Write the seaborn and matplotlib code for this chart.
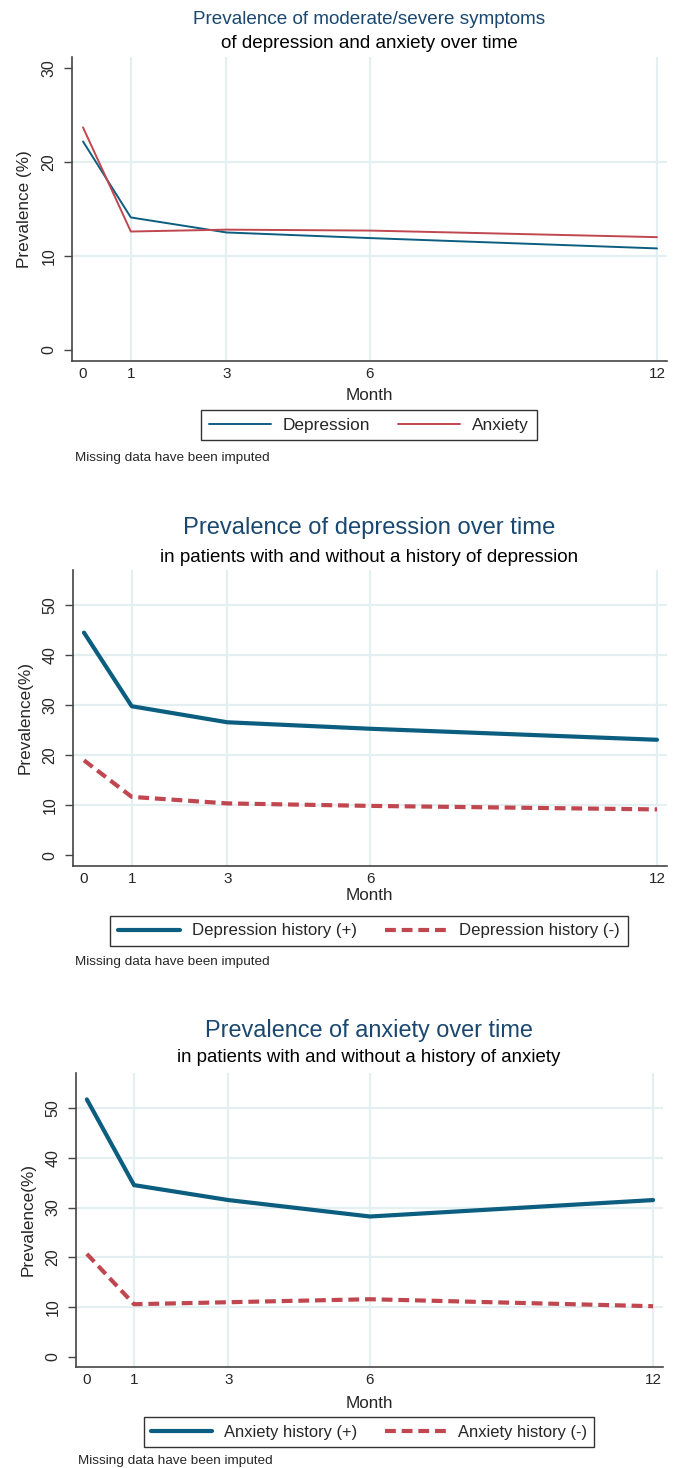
import numpy as np
import pandas as pd
import seaborn as sns
import matplotlib.pyplot as plt
from matplotlib.lines import Line2D

# values
months = [0, 1, 3, 6, 12]
depression = [22.2, 14.1, 12.5, 11.9, 10.8]
anxiety = [23.7, 12.6, 12.8, 12.7, 12.0]
dep_history_pos = [44.5, 29.8, 26.6, 25.3, 23.1]
dep_history_neg = [19.0, 11.7, 10.4, 9.9, 9.2]
anx_history_pos = [51.7, 34.5, 31.5, 28.2, 31.5]
anx_history_neg = [20.7, 10.6, 11.0, 11.6, 10.2]

BLUE = "#0b5e7f"
RED = "#c0474f"
TITLE_BLUE = "#1a476f"
GRID = "#e4eff1"
FONT = ["Liberation Sans", "DejaVu Sans"]

sns.set_theme(style="white")
plt.rcParams['font.family'] = FONT

W, H = 679, 1468
fig = plt.figure(figsize=(W / 100, H / 100), dpi=100)


def px_axes(left, top, right, bottom):
    return fig.add_axes([left / W, 1 - bottom / H, (right - left) / W, (bottom - top) / H])


def fx(x):
    return x / W


def fy(y):
    return 1 - y / H


def style_axes(ax, yticks, ylim, ylabel):
    ax.set_xlim(-0.23, 12.21)
    ax.set_ylim(*ylim)
    ax.set_xticks(months)
    ax.set_yticks(yticks)
    ax.set_xlabel("")
    ax.set_ylabel(ylabel, fontsize=12.3, labelpad=7)
    ax.tick_params(axis="x", length=0, pad=4, labelsize=11)
    ax.tick_params(axis="y", length=6, width=1, color="#444444", pad=5, labelsize=11.5, left=True)
    for lab in ax.get_yticklabels():
        lab.set_rotation(90)
        lab.set_va("center")
    for s in ["top", "right"]:
        ax.spines[s].set_visible(False)
    for s in ["left", "bottom"]:
        ax.spines[s].set_color("#444444")
        ax.spines[s].set_linewidth(1.2)
    ax.grid(True, color=GRID, linewidth=1.6)
    ax.set_axisbelow(True)
    # no grid lines at the axis edges (0 on both axes)
    ax.get_xgridlines()[0].set_visible(False)
    ax.get_ygridlines()[0].set_visible(False)
    if yticks[-1] >= ylim[1] - 2:
        ax.get_ygridlines()[-1].set_visible(False)


def titles(cx, y_title, y_sub, title, sub, tsize, ssize):
    fig.text(fx(cx), fy(y_title), title, ha="center", va="center", color=TITLE_BLUE,
             fontsize=tsize)
    fig.text(fx(cx), fy(y_sub), sub, ha="center", va="center", color="black",
             fontsize=ssize)


def footer(cx, y_month, y_leg, y_note, x_note, handles, labels, hlen, colsp, lsize):
    fig.text(fx(cx), fy(y_month), "Month", ha="center", va="center", fontsize=12.3)
    leg = fig.legend(handles, labels, loc="center", bbox_to_anchor=(fx(cx), fy(y_leg)),
                     ncol=2, frameon=True, fancybox=False, edgecolor="black",
                     handlelength=hlen, columnspacing=colsp, handletextpad=0.7,
                     borderpad=0.45, prop={"size": lsize})
    leg.get_frame().set_linewidth(1.0)
    fig.text(fx(x_note), fy(y_note), "Missing data have been imputed", ha="left", va="center",
             fontsize=9.7)


# ---- panel 1
ax1 = px_axes(72, 57, 667, 361)
sns.lineplot(x=months, y=depression, ax=ax1, color=BLUE, linewidth=1.4)
sns.lineplot(x=months, y=anxiety, ax=ax1, color=RED, linewidth=1.4)
style_axes(ax1, [0, 10, 20, 30], (-1.2, 31.2), "Prevalence (%)")
titles(369, 19, 44, "Prevalence of moderate/severe symptoms",
       "of depression and anxiety over time", 13.6, 13.6)
footer(369, 395, 425, 458, 75,
       [Line2D([], [], color=BLUE, lw=1.4), Line2D([], [], color=RED, lw=1.4)],
       ["Depression", "Anxiety"], 3.6, 1.6, 12.4)

# ---- panel 2
ax2 = px_axes(73, 570, 667, 866)
sns.lineplot(x=months, y=dep_history_pos, ax=ax2, color=BLUE, linewidth=3.0)
sns.lineplot(x=months, y=dep_history_neg, ax=ax2, color=RED, linewidth=3.0)
ax2.lines[-1].set_dashes([2.6, 1.4])
style_axes(ax2, [0, 10, 20, 30, 40, 50], (-2.1, 57), "Prevalence(%)")
titles(369, 528, 557, "Prevalence of depression over time",
       "in patients with and without a history of depression", 17.1, 13.5)
footer(369, 896, 931, 962, 75,
       [Line2D([], [], color=BLUE, lw=3.0),
        Line2D([], [], color=RED, lw=3.0, dashes=[2.6, 1.4])],
       ["Depression history (+)", "Depression history (-)"], 3.7, 1.7, 12.1)

# ---- panel 3
ax3 = px_axes(76, 1073, 663, 1367)
sns.lineplot(x=months, y=anx_history_pos, ax=ax3, color=BLUE, linewidth=3.0)
sns.lineplot(x=months, y=anx_history_neg, ax=ax3, color=RED, linewidth=3.0)
ax3.lines[-1].set_dashes([2.6, 1.4])
style_axes(ax3, [0, 10, 20, 30, 40, 50], (-2.0, 57), "Prevalence(%)")
titles(369, 1031, 1058, "Prevalence of anxiety over time",
       "in patients with and without a history of anxiety", 16.9, 13.45)
footer(369, 1404, 1432, 1461, 78,
       [Line2D([], [], color=BLUE, lw=3.0),
        Line2D([], [], color=RED, lw=3.0, dashes=[2.6, 1.4])],
       ["Anxiety history (+)", "Anxiety history (-)"], 3.7, 1.7, 11.9)

fig.savefig("out.png", dpi=100)
